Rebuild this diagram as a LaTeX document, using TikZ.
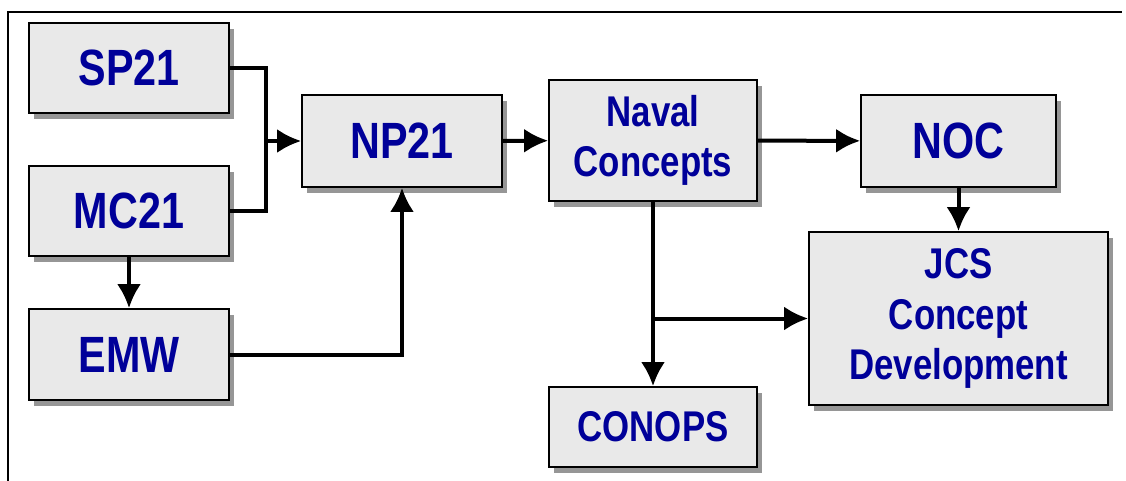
\documentclass[tikz,border=0pt]{standalone}
\usepackage{fontspec}
\setmainfont{Liberation Sans}
\newfontfamily\blockfont[FakeStretch=0.81]{Liberation Sans}
\usetikzlibrary{arrows.meta,shadows,calc,positioning}
\definecolor{blockColor}{RGB}{233,233,233}
\definecolor{shadowColor}{RGB}{150,150,150}
\definecolor{labelColor}{RGB}{0,0,153}
\tikzset{block/.style={fill=blockColor, draw, line width=1.6pt, align=center, inner sep=0pt,
  text=labelColor, font=\blockfont\fontsize{51}{55}\selectfont\bfseries,
  drop shadow={shadow xshift=5pt, shadow yshift=-6pt, fill=shadowColor, opacity=1}}}
\tikzset{smallblock/.style={block, font=\blockfont\fontsize{43}{50.5}\selectfont\bfseries}}
\tikzset{flow/.style={line width=4pt, -{Latex[length=24pt,width=24pt]}}}
\tikzset{wire/.style={line width=4pt}}

\begin{document}
\begin{tikzpicture}[x=1pt, y=-1pt]
\useasboundingbox (0,0) rectangle (1126,481);
% frame
\draw[line width=2.5pt] (8,481) -- (8,12) -- (1122,12);

% Nodes
\node (SP21) [block, minimum width=200pt, minimum height=90pt] at (129,68) {SP21};
\node (MC21) [block, minimum width=200pt, minimum height=90pt] at (129,211) {MC21};
\node (EMW) [block, minimum width=200pt, minimum height=91pt] at (129,354.5) {EMW};
\node (NP21) [block, minimum width=200pt, minimum height=92pt] at (402,141) {NP21};
\node (NavalConcepts) [smallblock, minimum width=208pt, minimum height=121pt] at (653,140.5) {Naval\\Concepts};
\node (NOC) [block, minimum width=195pt, minimum height=92pt] at (958.5,141) {NOC};
\node (JCSConcept) [smallblock, minimum width=299pt, minimum height=173pt] at (958.5,318.5) {JCS\\Concept\\Development};
\node (CONOPS) [smallblock, minimum width=208pt, minimum height=80pt] at (653,427) {CONOPS};

\coordinate (MergeSP) at (266,141);
\coordinate (SplitNaval) at (653,318.5);

% Connectors
\draw [wire] (SP21.east) -| (MergeSP);
\draw [wire] (MC21.east) -| (MergeSP);
\draw [flow] (MergeSP) -- (NP21);
\draw [flow] (MC21) -- (EMW);
\draw [flow] (EMW.east) -| (NP21.south);
\draw [flow] (NP21) -- (NavalConcepts);
\draw [flow] (NavalConcepts) -- (NOC);
\draw [flow] (NOC) -- (JCSConcept);
\draw [flow] (NavalConcepts) -- (CONOPS);
\draw [flow] (SplitNaval) -- (JCSConcept);
\end{tikzpicture}
\end{document}
